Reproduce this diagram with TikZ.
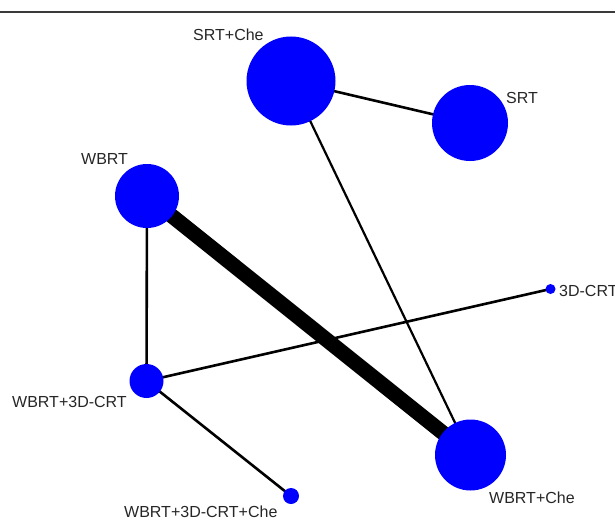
\documentclass[tikz,border=0pt]{standalone}
\usepackage{fontspec}
\setmainfont{Liberation Sans}
\usetikzlibrary{backgrounds}
\definecolor{nodeblue}{HTML}{0000FF}
\definecolor{framegray}{HTML}{3A3A3A}
\begin{document}
\begin{tikzpicture}[x=1pt,y=-1pt,
  trt/.style={circle,fill=nodeblue,inner sep=0pt,minimum size=#1},
  lbl/.style={anchor=base west,inner sep=0pt,font=\fontsize{16}{18}\selectfont,text=black!85},
  edge/.style={line width=2.6pt,black},
  bigedge/.style={line width=15pt,black}]
\useasboundingbox (0,0) rectangle (615,519);
\draw[framegray,line width=2pt] (0,12) -- (615,12);
% treatment nodes
\node[trt=89pt] (srtche) at (291,81) {};
\node[trt=76pt] (srt) at (470,123) {};
\node[trt=64pt] (wbrt) at (147,196) {};
\node[trt=10pt] (dcrt) at (550.5,289) {};
\node[trt=34pt] (wbrtd) at (146.5,381) {};
\node[trt=16pt] (wbrtdche) at (291,496) {};
\node[trt=71pt] (wbrtche) at (470.5,455) {};
% labels
\node[lbl] (lsrtche) at (193,41) {SRT+Che};
\node[lbl] (lsrt) at (506,103) {SRT};
\node[lbl] (lwbrt) at (81,164) {WBRT};
\node[lbl] (ldcrt) at (559,296) {3D-CRT};
\node[lbl] (lwbrtd) at (12,407) {WBRT+3D-CRT};
\node[lbl] (lwbrtdche) at (124,517) {WBRT+3D-CRT+Che};
\node[lbl] (lwbrtche) at (489,503) {WBRT+Che};
% connectors
\begin{scope}[on background layer]
\draw[edge] (srtche.center) -- (srt.center);
\draw[edge,line width=2.2pt] (srtche.center) -- (wbrtche.center);
\draw[bigedge] (wbrt.center) -- (wbrtche.center);
\draw[edge] (wbrt.center) -- (wbrtd.center);
\draw[edge] (wbrtd.center) -- (dcrt.center);
\draw[edge] (wbrtd.center) -- (wbrtdche.center);
\end{scope}
\end{tikzpicture}
\end{document}
